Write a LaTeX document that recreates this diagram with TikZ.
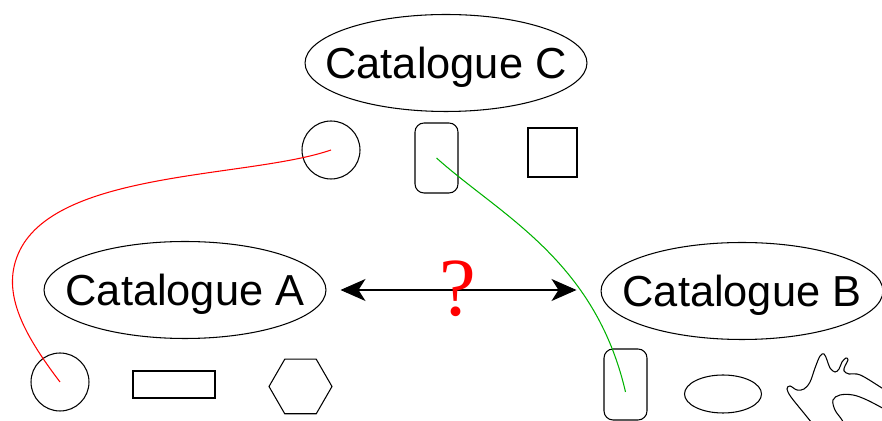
\documentclass[tikz,border=0pt]{standalone}
\usepackage{fontspec}
\setmainfont{Liberation Sans}
\newfontfamily\qfont{Liberation Serif}
\usetikzlibrary{arrows.meta,shapes.geometric}

\begin{document}
\begin{tikzpicture}[x=0.02cm,y=-0.02cm,line width=0.6pt,
	catalogue/.style={ellipse,draw,minimum width=5.64cm,minimum height=1.94cm,inner sep=0pt},
	cattext/.style={font=\fontsize{24.7}{28}\selectfont,text depth=0pt},
	item/.style={draw,inner sep=0pt},
	dbl/.style={{Stealth[length=0.5cm,width=0.44cm,inset=0.14cm]}-{Stealth[length=0.5cm,width=0.44cm,inset=0.14cm]}}]
	\useasboundingbox (0,0) rectangle (882,421);
	% the three catalogues
	\node[catalogue] (catC) at (446,63) {};
	\node[cattext] (txtC) at (catC) {Catalogue C};
	\node[catalogue] (catA) at (185,290) {};
	\node[cattext] (txtA) at (catA) {Catalogue A};
	\node[catalogue] (catB) at (742,291) {};
	\node[cattext] (txtB) at (catB) {Catalogue B};
	% objects of catalogue C
	\node[item,circle,minimum size=1.16cm] (cirC) at (331,150) {};
	\node[item,rounded corners=0.18cm,minimum width=0.86cm,minimum height=1.4cm] (rndC) at (436.5,158) {};
	\node[item,minimum size=0.98cm] (sqC) at (552.5,152.5) {};
	% objects of catalogue A
	\node[item,circle,minimum size=1.16cm] (cirA) at (60,382) {};
	\node[item,minimum width=1.64cm,minimum height=0.54cm] (recA) at (174,384.5) {};
	\node[item,regular polygon,regular polygon sides=6,minimum size=1.26cm] (hexA) at (300.5,386.5) {};
	% objects of catalogue B
	\node[item,rounded corners=0.18cm,minimum width=0.86cm,minimum height=1.42cm] (rndB) at (625.5,384.5) {};
	\node[item,ellipse,minimum width=1.54cm,minimum height=0.76cm] (ellB) at (723,394) {};
	\begin{scope}
		\clip (0,0) rectangle (882,421);
		\draw plot[smooth,tension=0.6] coordinates {(816,428) (803,412) (791,397) (787,389) (790,386)
			(797,390) (804,389) (810,382) (815,368) (820,356) (824,354) (827,360) (830,368) (835,372)
			(839,369) (842,362) (846,358) (848,360) (845,366) (844,371) (849,374) (857,374) (866,378) (888,392)};
		\draw plot[smooth,tension=0.6] coordinates {(886,410) (867,400) (853,395) (840,395) (833,400)
			(835,410) (842,420) (847,430)};
	\end{scope}
	% mapping between catalogues
	\draw[dbl] (catA.east) -- (catA.east -| catB.west) [shorten <=0.28cm,shorten >=0.48cm];
	\node[text=red,font=\qfont\fontsize{47}{50}\selectfont,inner sep=0pt] (q) at (458,289) {?};
	% matched objects
	\draw[red] (cirC.center) .. controls (250,178) and (60,170) .. (20,250)
		.. controls (0,290) and (22,332) .. (cirA.center);
	\draw[green!70!black] (rndC.center) .. controls (500,215) and (595,260) .. ([yshift=-0.15cm]rndB.center);
\end{tikzpicture}
\end{document}
